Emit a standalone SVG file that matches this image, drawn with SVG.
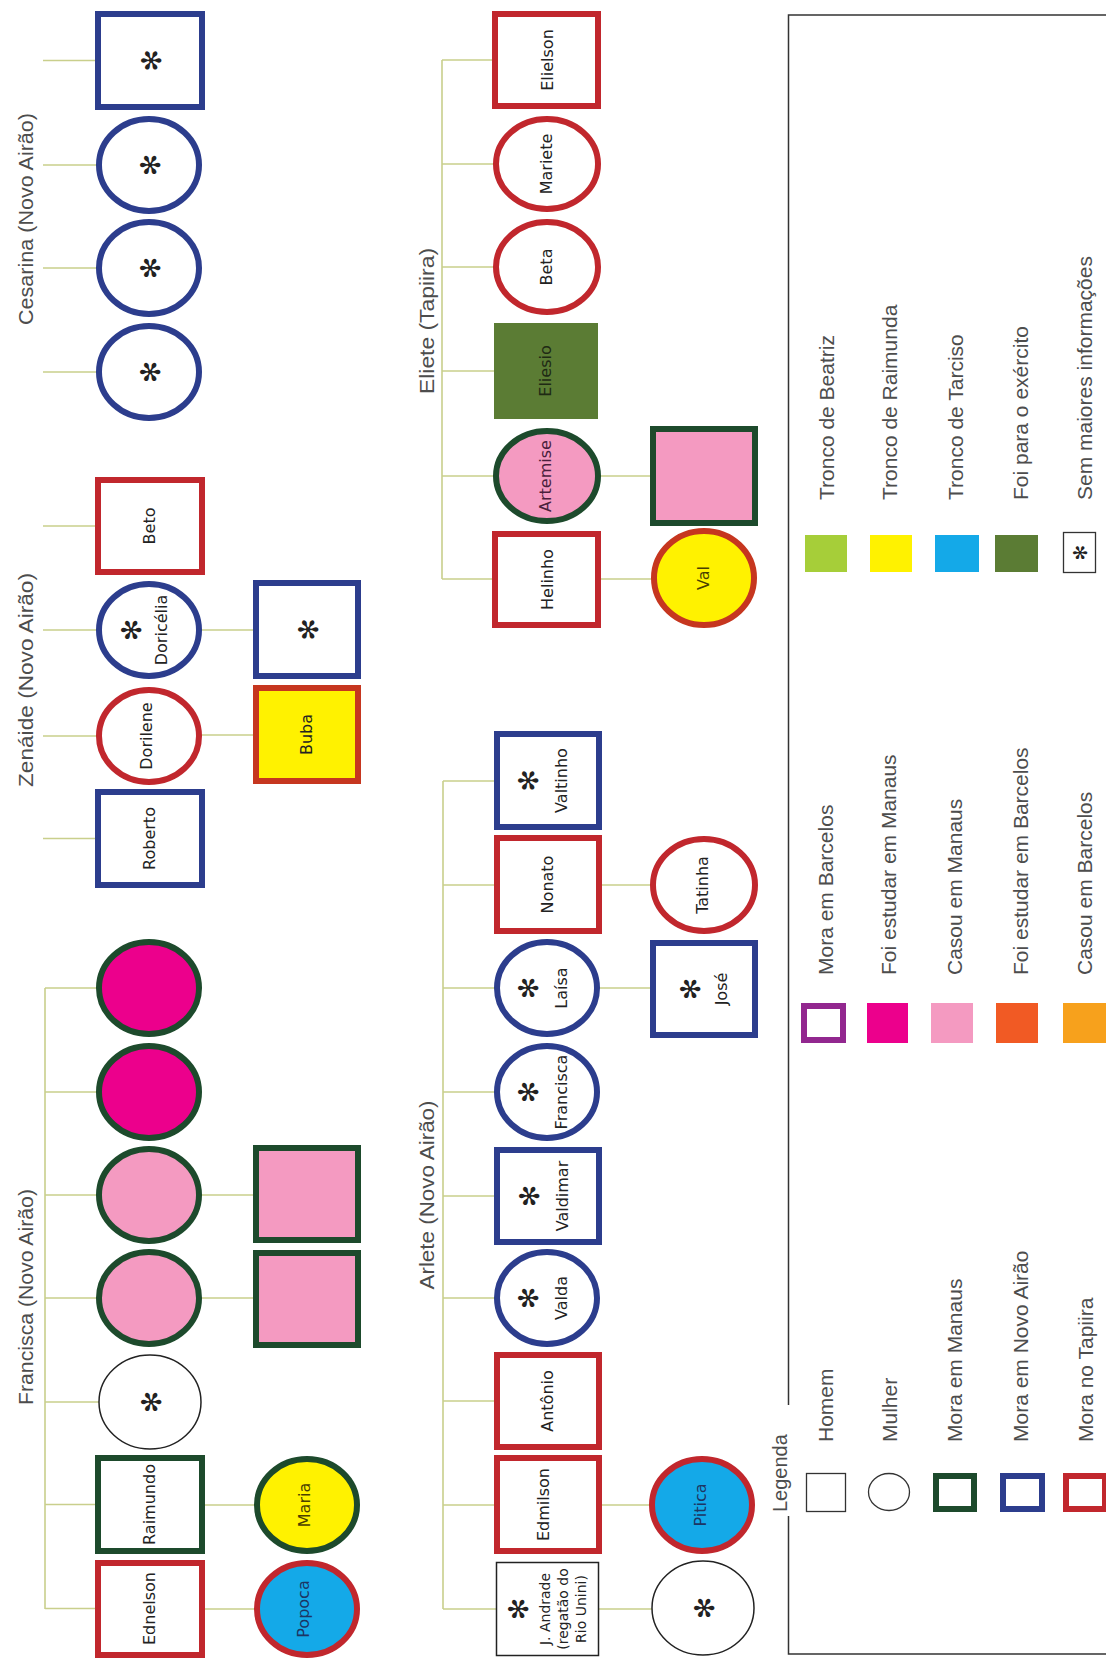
<svg xmlns="http://www.w3.org/2000/svg" width="1106" height="1658" viewBox="0 0 1106 1658">
<style>
.c{stroke:#c9cf8c;stroke-width:1.6;fill:none}
.g{stroke:#1d4a2c;stroke-width:6}
.b{stroke:#2c3d8d;stroke-width:6}
.r{stroke:#c1272d;stroke-width:6}
.ro{stroke:#c6361f;stroke-width:6}
.t{stroke:#222;stroke-width:1.5}
.w{fill:#fff}.pk{fill:#f49ac1}.mg{fill:#ec008c}.yl{fill:#fff200}.cy{fill:#14a9e8}.ol{fill:#5b7c34}.lg{fill:#a6ce39}.or{fill:#f15a24}.oy{fill:#f7a11c}
.n{font-family:"DejaVu Sans",sans-serif;font-size:16px;fill:#222;text-anchor:middle}
.nn{font-family:"DejaVu Sans",sans-serif;font-size:14px;fill:#222;text-anchor:middle}
.a{font-family:"DejaVu Sans",sans-serif;font-size:27px;fill:#222;text-anchor:middle;dominant-baseline:central}
.as{font-family:"DejaVu Sans",sans-serif;font-size:19px;fill:#222;text-anchor:middle;dominant-baseline:central}
.ti{font-family:"Liberation Sans",Arial,sans-serif;font-size:21px;fill:#4d4d4d;text-anchor:middle}
.le{font-family:"Liberation Sans",Arial,sans-serif;font-size:21px;fill:#4d4d4d}
</style>
<rect width="1106" height="1658" fill="#fff"/>

<g id="connectors">
<path class="c" d="M43 60.5H98M43 165H99M43 268H99M43 372H99"/>
<path class="c" d="M43 526H98M43 630H99M43 736H99M43 838.5H98M199 630H256M199 735H256"/>
<path class="c" d="M45 988V1609M45 988H99M45 1092H99M45 1195H99M45 1298H99M45 1402H99M45 1504.5H98M45 1608.5H98M199 1195H256M199 1298H256M202 1505H257M202 1609H257"/>
<path class="c" d="M442 60V579M442 60H497M442 164H497M442 267H497M442 371H494M442 476H497M442 579H497M597 476H653M599 579H654"/>
<path class="c" d="M443 781V1609M443 781H497M443 885H497M443 988H497M443 1092H497M443 1196H497M443 1298H497M443 1401H497M443 1505H497M443 1609H497M599 885H654M597 988H653M599 1505H652M599 1609H652"/>
</g>

<g id="title-cesarina"><text class="ti" transform="translate(33 219) rotate(-90)" textLength="212" lengthAdjust="spacingAndGlyphs">Cesarina (Novo Airão)</text></g>
<g id="title-zenaide"><text class="ti" transform="translate(33 680) rotate(-90)" textLength="214" lengthAdjust="spacingAndGlyphs">Zenáide (Novo Airão)</text></g>
<g id="title-francisca"><text class="ti" transform="translate(33 1297) rotate(-90)" textLength="216" lengthAdjust="spacingAndGlyphs">Francisca (Novo Airão)</text></g>
<g id="title-eliete"><text class="ti" transform="translate(434 321) rotate(-90)" textLength="146" lengthAdjust="spacingAndGlyphs">Eliete (Tapiira)</text></g>
<g id="title-arlete"><text class="ti" transform="translate(434 1195) rotate(-90)" textLength="189" lengthAdjust="spacingAndGlyphs">Arlete (Novo Airão)</text></g>

<g id="ces-1"><rect class="b w" x="98" y="14" width="104" height="93"/><text class="a" transform="translate(151 60.5) rotate(-90)">✻</text></g>
<g id="ces-2"><ellipse class="b w" cx="149" cy="165" rx="50" ry="46"/><text class="a" transform="translate(150 165) rotate(-90)">✻</text></g>
<g id="ces-3"><ellipse class="b w" cx="149" cy="268" rx="50" ry="46"/><text class="a" transform="translate(150 268) rotate(-90)">✻</text></g>
<g id="ces-4"><ellipse class="b w" cx="149" cy="372" rx="50" ry="46"/><text class="a" transform="translate(150 372) rotate(-90)">✻</text></g>

<g id="beto"><rect class="r w" x="98" y="480" width="104" height="92"/><text class="n" transform="translate(155 526) rotate(-90)">Beto</text></g>
<g id="doricelia"><ellipse class="b w" cx="149" cy="630" rx="50" ry="46"/><text class="a" transform="translate(131 630) rotate(-90)">✻</text><text class="n" transform="translate(167 630) rotate(-90)">Doricélia</text></g>
<g id="doricelia-spouse"><rect class="b w" x="256" y="583" width="102" height="93"/><text class="a" transform="translate(308 629.5) rotate(-90)">✻</text></g>
<g id="dorilene"><ellipse class="r w" cx="149" cy="736" rx="50" ry="46"/><text class="n" transform="translate(152 736) rotate(-90)">Dorilene</text></g>
<g id="buba"><rect class="ro yl" x="256" y="688" width="102" height="93"/><text class="n" transform="translate(312 734.5) rotate(-90)">Buba</text></g>
<g id="roberto"><rect class="b w" x="98" y="792" width="104" height="93"/><text class="n" transform="translate(155 838.5) rotate(-90)">Roberto</text></g>

<g id="fr-1"><ellipse class="g mg" cx="149" cy="988" rx="50" ry="46"/></g>
<g id="fr-2"><ellipse class="g mg" cx="149" cy="1092" rx="50" ry="46"/></g>
<g id="fr-3"><ellipse class="g pk" cx="149" cy="1195" rx="50" ry="46"/></g>
<g id="fr-3-spouse"><rect class="g pk" x="256" y="1148" width="102" height="92"/></g>
<g id="fr-4"><ellipse class="g pk" cx="149" cy="1298" rx="50" ry="46"/></g>
<g id="fr-4-spouse"><rect class="g pk" x="256" y="1253" width="102" height="92"/></g>
<g id="fr-5"><ellipse class="t w" cx="150" cy="1402" rx="51" ry="47"/><text class="a" transform="translate(151 1402) rotate(-90)">✻</text></g>
<g id="raimundo"><rect class="g w" x="98" y="1458" width="104" height="93"/><text class="n" transform="translate(155 1504.5) rotate(-90)">Raimundo</text></g>
<g id="maria"><ellipse class="g yl" cx="307" cy="1505" rx="50" ry="46"/><text class="n" style="fill:#4a3f00" transform="translate(310 1505) rotate(-90)">Maria</text></g>
<g id="ednelson"><rect class="r w" x="98" y="1563" width="104" height="92"/><text class="n" transform="translate(155 1608.5) rotate(-90)">Ednelson</text></g>
<g id="popoca"><ellipse class="r cy" cx="307" cy="1609" rx="50" ry="46"/><text class="n" style="fill:#1d3563" transform="translate(309 1609) rotate(-90)">Popoca</text></g>

<g id="elielson"><rect class="r w" x="495" y="14" width="103" height="92"/><text class="n" transform="translate(553 60) rotate(-90)">Elielson</text></g>
<g id="mariete"><ellipse class="r w" cx="547" cy="164" rx="51" ry="45"/><text class="n" transform="translate(552 164) rotate(-90)">Mariete</text></g>
<g id="beta"><ellipse class="r w" cx="547" cy="267" rx="51" ry="45"/><text class="n" transform="translate(552 267) rotate(-90)">Beta</text></g>
<g id="eliesio"><rect class="ol" x="494" y="323" width="104" height="96"/><text class="n" style="fill:#1f2a14" transform="translate(551 371) rotate(-90)">Eliesio</text></g>
<g id="artemise"><ellipse class="g pk" cx="547" cy="476" rx="51" ry="45"/><text class="n" style="fill:#4a1f3c" transform="translate(551 476) rotate(-90)">Artemise</text></g>
<g id="artemise-spouse"><rect class="g pk" x="653" y="429" width="102" height="94"/></g>
<g id="helinho"><rect class="r w" x="495" y="534" width="103" height="91"/><text class="n" transform="translate(553 579.5) rotate(-90)">Helinho</text></g>
<g id="val"><ellipse class="ro yl" cx="704" cy="578" rx="50" ry="47"/><text class="n" style="fill:#4a3f00" transform="translate(709 578) rotate(-90)">Val</text></g>

<g id="valtinho"><rect class="b w" x="497" y="734" width="102" height="93"/><text class="a" transform="translate(528 780.5) rotate(-90)">✻</text><text class="n" transform="translate(567 780.5) rotate(-90)">Valtinho</text></g>
<g id="nonato"><rect class="r w" x="497" y="838" width="102" height="93"/><text class="n" transform="translate(553 884.5) rotate(-90)">Nonato</text></g>
<g id="tatinha"><ellipse class="r w" cx="704" cy="885" rx="51" ry="46"/><text class="n" transform="translate(708 885) rotate(-90)">Tatinha</text></g>
<g id="laisa"><ellipse class="b w" cx="547" cy="988" rx="50" ry="46"/><text class="a" transform="translate(528 988) rotate(-90)">✻</text><text class="n" transform="translate(567 988) rotate(-90)">Laísa</text></g>
<g id="jose"><rect class="b w" x="653" y="943" width="102" height="92"/><text class="a" transform="translate(690 989) rotate(-90)">✻</text><text class="n" transform="translate(727 989) rotate(-90)">José</text></g>
<g id="francisca-a"><ellipse class="b w" cx="547" cy="1092" rx="50" ry="46"/><text class="a" transform="translate(528 1092) rotate(-90)">✻</text><text class="n" transform="translate(567 1092) rotate(-90)">Francisca</text></g>
<g id="valdimar"><rect class="b w" x="497" y="1150" width="102" height="92"/><text class="a" transform="translate(529 1196) rotate(-90)">✻</text><text class="n" transform="translate(568 1196) rotate(-90)">Valdimar</text></g>
<g id="valda"><ellipse class="b w" cx="547" cy="1298" rx="50" ry="46"/><text class="a" transform="translate(528 1298) rotate(-90)">✻</text><text class="n" transform="translate(567 1298) rotate(-90)">Valda</text></g>
<g id="antonio"><rect class="r w" x="497" y="1355" width="102" height="92"/><text class="n" transform="translate(553 1401) rotate(-90)">Antônio</text></g>
<g id="edmilson"><rect class="r w" x="497" y="1458" width="102" height="93"/><text class="n" transform="translate(549 1504.5) rotate(-90)">Edmilson</text></g>
<g id="pitica"><ellipse class="r cy" cx="702" cy="1505" rx="50" ry="46"/><text class="n" style="fill:#1d3563" transform="translate(706 1505) rotate(-90)">Pitica</text></g>
<g id="jandrade"><rect class="t w" x="496.5" y="1562.5" width="102" height="93"/><text class="a" transform="translate(518 1609) rotate(-90)">✻</text><text class="nn" transform="translate(550 1609) rotate(-90)">J. Andrade</text><text class="nn" transform="translate(568 1609) rotate(-90)">(regatão do</text><text class="nn" transform="translate(586 1609) rotate(-90)">Rio Unini)</text></g>
<g id="jandrade-spouse"><ellipse class="t w" cx="703" cy="1608" rx="51" ry="47"/><text class="a" transform="translate(704 1608) rotate(-90)">✻</text></g>

<g id="legend">
<path d="M1110 15H788.5V1405M788.5 1516V1654H1110" fill="none" stroke="#333" stroke-width="1.5"/>
<text class="le" style="font-size:20px" transform="translate(787 1512) rotate(-90)">Legenda</text>
<rect x="806.5" y="1473.5" width="39" height="38" fill="#fff" stroke="#333" stroke-width="1.3"/>
<text class="le" transform="translate(833 1442) rotate(-90)">Homem</text>
<ellipse cx="889" cy="1492" rx="20.5" ry="18.5" fill="#fff" stroke="#333" stroke-width="1.3"/>
<text class="le" transform="translate(897 1442) rotate(-90)">Mulher</text>
<rect class="g w" x="936" y="1476" width="38" height="33"/>
<text class="le" transform="translate(962 1442) rotate(-90)">Mora em Manaus</text>
<rect class="b w" x="1003" y="1476" width="39" height="33"/>
<text class="le" transform="translate(1028 1442) rotate(-90)">Mora em Novo Airão</text>
<rect class="r w" x="1066" y="1476" width="39" height="33"/>
<text class="le" transform="translate(1093 1442) rotate(-90)">Mora no Tapiira</text>
<rect x="804" y="1006" width="39" height="34" fill="#fff" stroke="#92278f" stroke-width="6"/>
<text class="le" transform="translate(833 975) rotate(-90)">Mora em Barcelos</text>
<rect class="mg" x="867" y="1003" width="41" height="40"/>
<text class="le" transform="translate(896 975) rotate(-90)">Foi estudar em Manaus</text>
<rect class="pk" x="931" y="1003" width="42" height="40"/>
<text class="le" transform="translate(962 975) rotate(-90)">Casou em Manaus</text>
<rect class="or" x="996" y="1003" width="42" height="40"/>
<text class="le" transform="translate(1028 975) rotate(-90)">Foi estudar em Barcelos</text>
<rect class="oy" x="1063" y="1003" width="43" height="40"/>
<text class="le" transform="translate(1092 975) rotate(-90)">Casou em Barcelos</text>
<rect class="lg" x="805" y="535" width="42" height="37"/>
<text class="le" transform="translate(834 500) rotate(-90)">Tronco de Beatriz</text>
<rect class="yl" x="870" y="535" width="42" height="37"/>
<text class="le" transform="translate(897 500) rotate(-90)">Tronco de Raimunda</text>
<rect class="cy" x="935" y="535" width="44" height="37"/>
<text class="le" transform="translate(963 500) rotate(-90)">Tronco de Tarciso</text>
<rect class="ol" x="995" y="535" width="43" height="37"/>
<text class="le" transform="translate(1028 500) rotate(-90)">Foi para o exército</text>
<rect x="1063.5" y="532.5" width="32" height="40" fill="#fff" stroke="#333" stroke-width="1.3"/>
<text class="as" transform="translate(1079.5 552.5) rotate(-90)">✻</text>
<text class="le" transform="translate(1092 500) rotate(-90)">Sem maiores informações</text>
</g>
</svg>
